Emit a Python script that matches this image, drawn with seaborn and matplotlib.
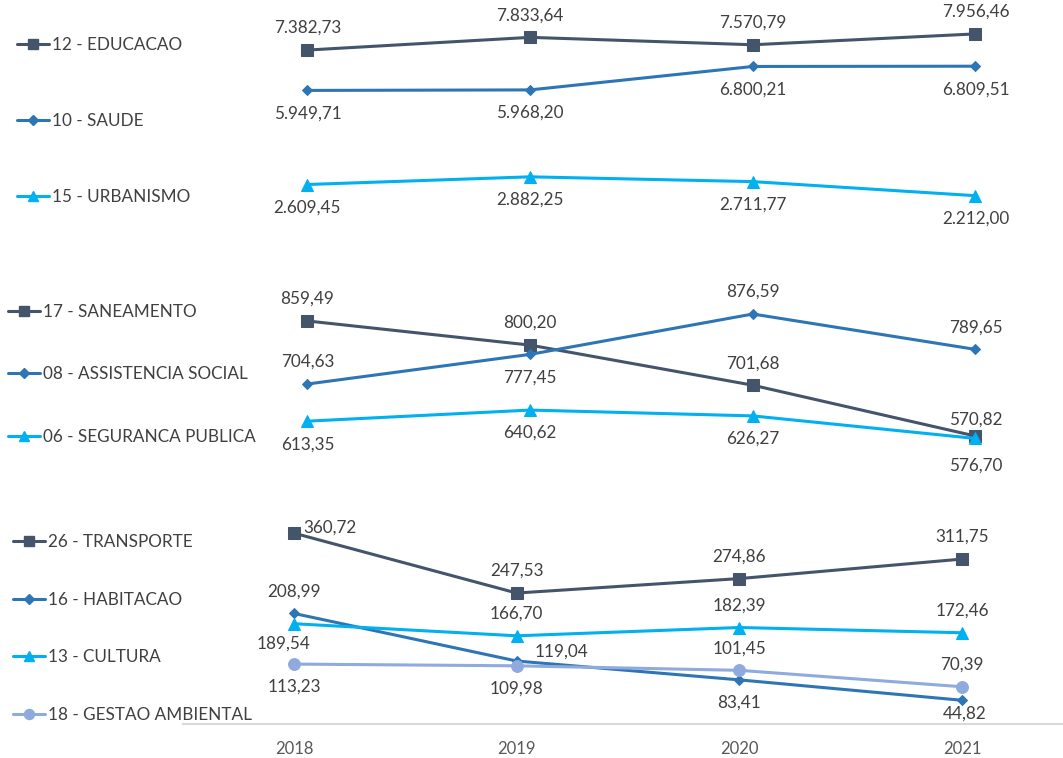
import pandas as pd
import matplotlib.pyplot as plt
import seaborn as sns
from matplotlib.lines import Line2D

# Data
years = [2018, 2019, 2020, 2021]

educacao = [7382.73, 7833.64, 7570.79, 7956.46]
saude = [5949.71, 5968.20, 6800.21, 6809.51]
urbanismo = [2609.45, 2882.25, 2711.77, 2212.00]

saneamento = [859.49, 800.20, 701.68, 576.70]
assistencia = [704.63, 777.45, 876.59, 789.65]
seguranca = [613.35, 640.62, 626.27, 570.82]

transporte = [360.72, 247.53, 274.86, 311.75]
habitacao = [208.99, 119.04, 83.41, 44.82]
cultura = [189.54, 166.70, 182.39, 172.46]
gestao = [113.23, 109.98, 101.45, 70.39]

panels = [
    {"12 - EDUCACAO": educacao, "10 - SAUDE": saude, "15 - URBANISMO": urbanismo},
    {"17 - SANEAMENTO": saneamento, "08 - ASSISTENCIA SOCIAL": assistencia,
     "06 - SEGURANCA PUBLICA": seguranca},
    {"26 - TRANSPORTE": transporte, "16 - HABITACAO": habitacao,
     "13 - CULTURA": cultura, "18 - GESTAO AMBIENTAL": gestao},
]

# Styles
colors = ["#44546A", "#2E75B6", "#00B0F0", "#8FAADC"]
marks = ["s", "D", "^", "o"]
msizes = [8.5, 5.5, 8, 8.5]
TXT = "#404040"

# label offsets in pixels (dx, dy down)
A, B = (0, -22), (0, 23)
label_offsets = [
    [[A, A, A, A], [B, B, B, B], [B, B, B, B]],
    [[A, A, A, (0, 30)], [A, B, A, A], [B, B, B, (0, -19)]],
    [[(36, -6), A, A, A], [A, (45, -9), B, (3, 13)],
     [(-10, 20), A, A, A], [B, B, A, A]],
]

# Layout (pixels from top)
W, H = 1063, 758
panel_px = [(0, 258), (260, 480), (480, 724)]
ylims = [(0, 9160), (468.8, 1009.3), (0, 461.2)]
xlims = [(2016.619, 2021.393), (2016.619, 2021.393), (2016.680, 2021.453)]
legend_anchor = [(17, 37), (8, 304), (13, 534)]
legend_spacing = [3.5, 2.72, 2.44]

sns.set_style("white")
plt.rcParams["font.family"] = ["Lato", "DejaVu Sans"]

fig = plt.figure(figsize=(W / 100, H / 100), dpi=100)

for i, series in enumerate(panels):
    top, bot = panel_px[i]
    ax = fig.add_axes([0, (H - bot) / H, 1, (bot - top) / H])
    ax.patch.set_alpha(0)

    names = list(series.keys())
    df = pd.DataFrame([(y, v, n) for n in names for y, v in zip(years, series[n])],
                      columns=["year", "value", "serie"])
    pal = {n: colors[k] for k, n in enumerate(names)}
    mk = {n: marks[k] for k, n in enumerate(names)}
    sns.lineplot(data=df, x="year", y="value", hue="serie", style="serie",
                 hue_order=names, style_order=names, palette=pal, markers=mk,
                 dashes=False, linewidth=2.2, legend=False, ax=ax)

    for k, line in enumerate(ax.lines):
        line.set_markeredgecolor(colors[k])
        line.set_markersize(msizes[k])
        line.set_zorder(3 + k)

    # data labels
    for k, n in enumerate(names):
        for j, (y, v) in enumerate(zip(years, series[n])):
            dx, dy = label_offsets[i][k][j]
            txt = f"{v:,.2f}".replace(",", "X").replace(".", ",").replace("X", ".")
            ax.annotate(txt, (y, v), xytext=(dx * 0.72, -dy * 0.72),
                        textcoords="offset points", ha="center", va="center",
                        fontsize=12.3, color=TXT, annotation_clip=False, zorder=10)

    ax.set_xlim(*xlims[i])
    ax.set_ylim(*ylims[i])
    ax.set_xlabel("")
    ax.set_ylabel("")
    ax.set_yticks([])
    for s in ["top", "right", "left", "bottom"]:
        ax.spines[s].set_visible(False)

    if i == 2:
        ax.spines["bottom"].set_visible(True)
        ax.spines["bottom"].set_color("#D9D9D9")
        ax.spines["bottom"].set_linewidth(1.5)
        ax.spines["bottom"].set_bounds(2017.5, xlims[i][1])
        ax.set_xticks(years)
        ax.set_xticklabels([str(y) for y in years], fontsize=12, color="#595959")
        ax.tick_params(axis="x", length=0, pad=12)
    else:
        ax.set_xticks([])

    handles = [Line2D([], [], color=colors[k], marker=marks[k], markersize=msizes[k] * 0.85,
                      markeredgecolor=colors[k], linewidth=2.2) for k in range(len(names))]
    lx, ly = legend_anchor[i]
    leg = ax.legend(handles, names, loc="upper left",
                    bbox_to_anchor=(lx / W, 1 - ly / H), bbox_transform=fig.transFigure,
                    frameon=False, fontsize=12.3, borderpad=0, borderaxespad=0,
                    handlelength=1.85, handletextpad=0.2,
                    labelspacing=legend_spacing[i])
    for t in leg.get_texts():
        t.set_color(TXT)

fig.savefig("out.png", dpi=100)
